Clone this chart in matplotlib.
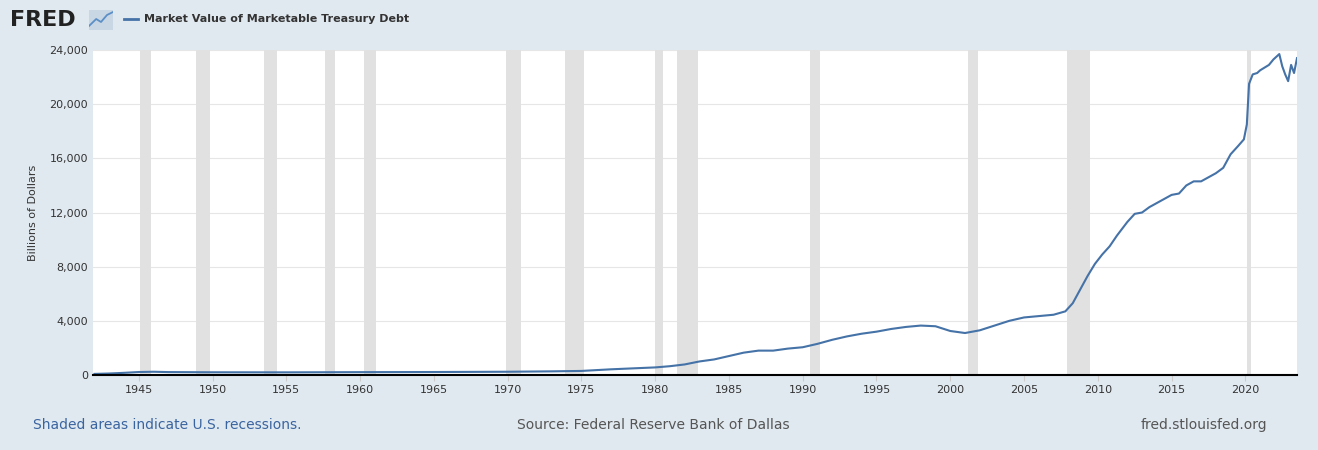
import matplotlib.pyplot as plt

years = [1942, 1943, 1944, 1945, 1946, 1947, 1950, 1955, 1960, 1965, 1970, 1973, 1975, 1977, 1980,
         1981, 1982, 1983, 1984, 1985, 1986, 1987, 1988, 1989, 1990, 1991, 1992, 1993, 1994,
         1995, 1996, 1997, 1998, 1999, 2000, 2001, 2002, 2003, 2004, 2005, 2006, 2007, 2007.8,
         2008.3, 2008.8, 2009.3, 2009.8, 2010.3, 2010.8, 2011.3, 2012, 2012.5, 2013, 2013.5, 2014,
         2014.5, 2015, 2015.5, 2016, 2016.5, 2017, 2017.5, 2018, 2018.5, 2019, 2019.5, 2019.9,
         2020.1, 2020.25, 2020.5, 2020.8, 2021, 2021.3, 2021.6, 2021.9, 2022.1, 2022.3, 2022.5,
         2022.7, 2022.9, 2023.1, 2023.3, 2023.5]
values = [80, 110, 160, 220, 240, 215, 200, 195, 210, 220, 240, 270, 300, 420, 560,
          650, 780, 1000, 1150, 1400, 1650, 1800, 1800, 1950, 2050, 2300, 2600, 2850, 3050,
          3200, 3400, 3550, 3650, 3600, 3250, 3100, 3300, 3650, 4000, 4250, 4350, 4450, 4700,
          5300, 6300, 7300, 8200, 8900, 9500, 10300, 11300, 11900, 12000, 12400, 12700,
          13000, 13300, 13400, 14000, 14300, 14300, 14600, 14900, 15300, 16300, 16900, 17400,
          18500, 21500, 22200, 22300, 22500, 22700, 22900, 23300, 23500, 23700, 22800,
          22200, 21700, 22900, 22300, 23400]
recessions = [(1945.1, 1945.8), (1948.9, 1949.8), (1953.5, 1954.4), (1957.6, 1958.3),
              (1960.3, 1961.1), (1969.9, 1970.9), (1973.9, 1975.2), (1980.0, 1980.5),
              (1981.5, 1982.9), (1990.5, 1991.2), (2001.2, 2001.9), (2007.9, 2009.5),
              (2020.1, 2020.4)]
xticks = list(range(1945, 2021, 5))
yticks = [0, 4000, 8000, 12000, 16000, 20000, 24000]

bg = "#e1e9f0"
fig = plt.figure(figsize=(13.18, 4.5), dpi=100, facecolor=bg)
ax = fig.add_axes([93 / 1318, 75 / 450, 1204 / 1318, 325 / 450])
for a, b in recessions:
    ax.axvspan(a, b, color="#e1e1e1", lw=0)
ax.plot(years, values, color="#4572a7", lw=1.5)
ax.set_xlim(1941.9, 2023.5)
ax.set_ylim(0, 24000)
ax.set_xticks(xticks)
ax.set_yticks(yticks)
ax.set_yticklabels([f"{v:,}" for v in yticks])
ax.grid(axis="y", color="#e6e6e6", lw=0.8)
ax.set_axisbelow(True)
for s in ["top", "right", "left"]:
    ax.spines[s].set_visible(False)
ax.spines["bottom"].set_color("black")
ax.spines["bottom"].set_linewidth(1.5)
ax.tick_params(axis="both", labelsize=8, colors="#333333", length=0)
ax.tick_params(axis="x", length=4, color="#cccccc")
ax.set_ylabel("Billions of Dollars", fontsize=8, color="#333333", labelpad=8)

fig.text(10 / 1318, 1 - 20 / 450, "FRED", fontsize=16, fontweight="bold", color="#222222", va="center")
# small logo box with a rising line
logo = fig.add_axes([89 / 1318, 1 - 30 / 450, 24 / 1318, 20 / 450])
logo.set_facecolor("#c9d6e3")
logo.plot([0, 0.3, 0.5, 0.75, 1], [0.2, 0.55, 0.4, 0.75, 0.9], color="#5b8fc7", lw=1.3)
logo.set_xlim(0, 1)
logo.set_ylim(0, 1)
logo.set_xticks([])
logo.set_yticks([])
for s in logo.spines.values():
    s.set_visible(False)
fig.lines.append(plt.Line2D([124 / 1318, 138 / 1318], [1 - 19 / 450] * 2, color="#4572a7", lw=2, transform=fig.transFigure))
fig.text(144 / 1318, 1 - 19 / 450, "Market Value of Marketable Treasury Debt", fontsize=8,
         fontweight="bold", color="#333333", va="center")
fig.text(33 / 1318, 1 - 425 / 450, "Shaded areas indicate U.S. recessions.", fontsize=10, color="#3a64a0", va="center")
fig.text(653 / 1318, 1 - 425 / 450, "Source: Federal Reserve Bank of Dallas", fontsize=10, color="#555555", va="center", ha="center")
fig.text(1267 / 1318, 1 - 425 / 450, "fred.stlouisfed.org", fontsize=10, color="#555555", va="center", ha="right")
fig.savefig("out.png", facecolor=bg)
